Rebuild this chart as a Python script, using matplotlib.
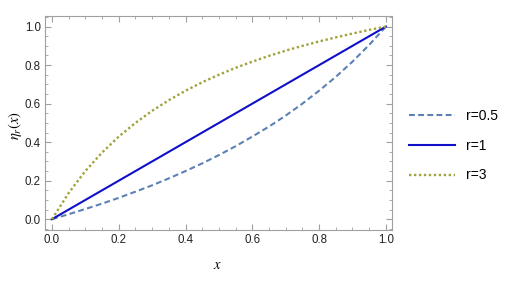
import matplotlib
matplotlib.use("Agg")
import matplotlib.pyplot as plt
from matplotlib.ticker import MultipleLocator, FormatStrFormatter

plt.rcParams['font.family'] = ['Liberation Sans', 'DejaVu Sans']
plt.rcParams['mathtext.fontset'] = 'stix'

# values
x = [0.0, 0.05, 0.1, 0.15, 0.2, 0.25, 0.3, 0.35, 0.4, 0.45, 0.5,
     0.55, 0.6, 0.65, 0.7, 0.75, 0.8, 0.85, 0.9, 0.95, 1.0]
eta_r05 = [0.0, 0.026, 0.053, 0.081, 0.111, 0.143, 0.176, 0.212, 0.25, 0.29, 0.333,
           0.379, 0.429, 0.481, 0.538, 0.6, 0.667, 0.739, 0.818, 0.905, 1.0]
eta_r1 = [0.0, 0.05, 0.1, 0.15, 0.2, 0.25, 0.3, 0.35, 0.4, 0.45, 0.5,
          0.55, 0.6, 0.65, 0.7, 0.75, 0.8, 0.85, 0.9, 0.95, 1.0]
eta_r3 = [0.0, 0.136, 0.25, 0.346, 0.429, 0.5, 0.563, 0.618, 0.667, 0.711, 0.75,
          0.786, 0.818, 0.848, 0.875, 0.9, 0.923, 0.944, 0.964, 0.983, 1.0]
labels = ['r=0.5', 'r=1', 'r=3']

fig = plt.figure(figsize=(5.05, 2.91), dpi=100)
ax = fig.add_axes([0.089, 0.2096, 0.687, 0.7354])

ax.plot(x, eta_r05, color='#5E81B5', lw=1.5, dashes=(2.8, 1.6), label=labels[0])
ax.plot(x, eta_r1, color='#1010C8', lw=1.5, label=labels[1])
ax.plot(x, eta_r3, color='#A0A23A', lw=1.7, dashes=(1.0, 1.1), label=labels[2])

ax.set_xlim(-0.021, 1.018)
ax.set_ylim(-0.056, 1.055)
ax.xaxis.set_major_locator(MultipleLocator(0.2))
ax.xaxis.set_minor_locator(MultipleLocator(0.05))
ax.yaxis.set_major_locator(MultipleLocator(0.2))
ax.yaxis.set_minor_locator(MultipleLocator(0.05))
ax.xaxis.set_major_formatter(FormatStrFormatter('%.1f'))
ax.yaxis.set_major_formatter(FormatStrFormatter('%.1f'))

for s in ax.spines.values():
    s.set_color('#A0A0A0')
    s.set_linewidth(0.8)
ax.tick_params(which='both', direction='in', top=True, right=True,
               color='#A0A0A0', labelsize=8.3, labelcolor='#222222', pad=3)
ax.tick_params(which='major', length=4, width=0.8)
ax.tick_params(which='minor', length=2, width=0.6)

fig.text(0.43, 0.09, r'$x$', fontsize=10.5, ha='center', va='center')
fig.text(0.03, 0.57, r'$\eta_r(x)$', fontsize=10.5, ha='center', va='center', rotation=90)

fig.legend(loc='center left', bbox_to_anchor=(0.785, 0.50), frameon=False,
           fontsize=10, handlelength=3.3, labelspacing=1.15, handletextpad=0.8)

fig.savefig('out.png', dpi=100)
